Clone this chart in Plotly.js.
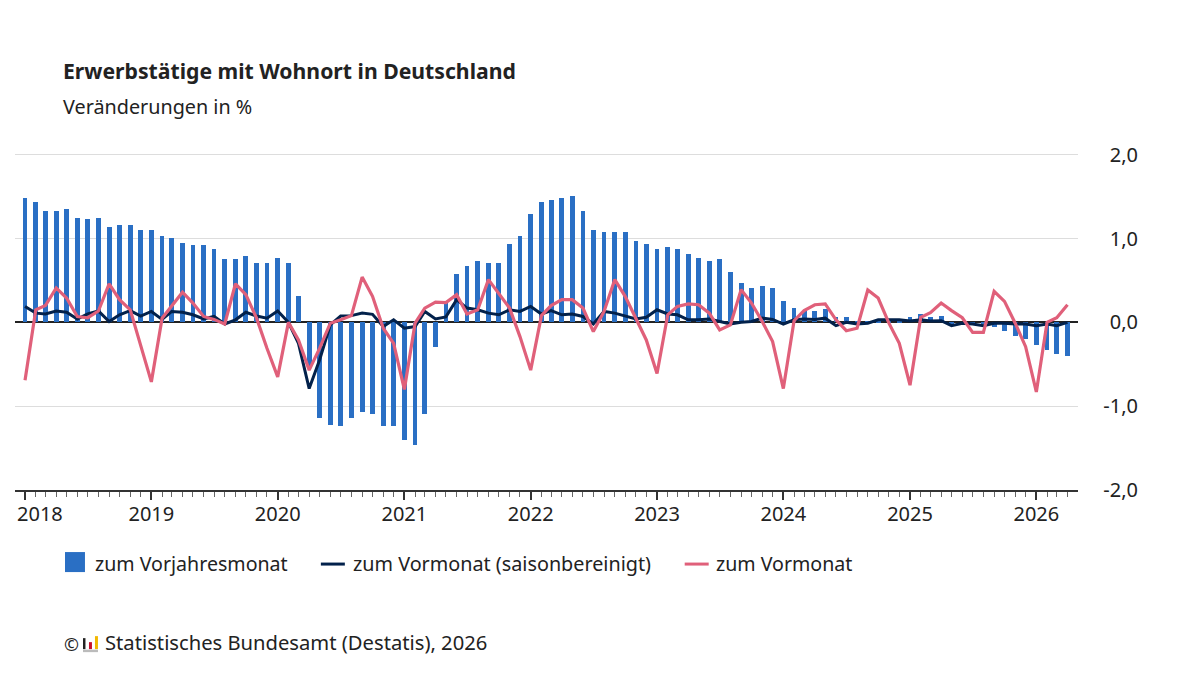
<!DOCTYPE html>
<html><head><meta charset="utf-8">
<script src="https://cdn.plot.ly/plotly-3.0.1.min.js"></script>
<style>html,body{margin:0;padding:0;background:#fff}</style></head>
<body><div id="chart" style="width:1200px;height:675px"></div>
<script>
const yearLabels = ['2018','2019','2020','2021','2022','2023','2024','2025','2026'];
const yoyChange = [1.48,1.44,1.33,1.33,1.35,1.25,1.23,1.25,1.14,1.16,1.16,1.10,
 1.10,1.03,1.01,0.95,0.92,0.92,0.88,0.75,0.75,0.79,0.71,0.71,
 0.77,0.71,0.32,-0.55,-1.14,-1.22,-1.24,-1.14,-1.07,-1.09,-1.24,-1.24,
 -1.40,-1.46,-1.09,-0.29,0.23,0.58,0.67,0.73,0.71,0.71,0.93,1.03,
 1.29,1.44,1.46,1.48,1.51,1.33,1.10,1.08,1.08,1.08,0.97,0.93,
 0.88,0.90,0.88,0.82,0.77,0.73,0.75,0.60,0.47,0.41,0.43,0.41,
 0.25,0.17,0.13,0.13,0.155,0.06,0.06,0.02,0.02,0.02,0.02,0.02,
 0.06,0.10,0.06,0.08,-0.02,0,-0.01,-0.02,-0.06,-0.10,-0.16,-0.20,
 -0.27,-0.33,-0.38,-0.40];
const momSeasonal = [0.19,0.11,0.10,0.135,0.12,0.04,0.10,0.135,0.01,0.09,0.14,0.075,
 0.13,0.035,0.13,0.12,0.09,0.04,0.07,-0.02,0.03,0.12,0.075,0.05,
 0.135,0,-0.25,-0.79,-0.45,-0.03,0.075,0.08,0.11,0.095,-0.05,0.03,
 -0.07,-0.05,0.13,0.04,0.065,0.27,0.17,0.15,0.11,0.09,0.15,0.13,
 0.19,0.10,0.14,0.09,0.10,0.07,-0.02,0.13,0.11,0.08,0.04,0.06,
 0.15,0.10,0.09,0.03,0.03,0.04,0.01,-0.02,0,0.01,0.05,0.035,
 -0.02,0.03,0.04,0.035,0.05,-0.04,0,-0.02,-0.01,0.03,0.03,0.03,
 0.015,0.03,0.015,0.02,-0.04,-0.01,-0.02,-0.04,-0.01,-0.01,-0.02,-0.02,
 -0.04,-0.02,-0.04,0];
const momChange = [-0.69,0.15,0.20,0.41,0.29,0.07,0.055,0.135,0.46,0.27,0.15,-0.29,
 -0.71,0.05,0.19,0.36,0.23,0.07,0.035,-0.02,0.46,0.33,0.05,-0.31,
 -0.65,0,-0.21,-0.57,-0.31,-0.01,0.03,0.08,0.54,0.31,-0.07,-0.25,
 -0.80,-0.01,0.17,0.24,0.235,0.33,0.10,0.15,0.51,0.345,0.17,-0.17,
 -0.57,0.08,0.20,0.27,0.27,0.17,-0.11,0.13,0.51,0.31,0.05,-0.21,
 -0.61,0.09,0.19,0.22,0.21,0.11,-0.09,-0.03,0.39,0.23,0.01,-0.23,
 -0.79,0.02,0.14,0.21,0.22,0.03,-0.10,-0.07,0.385,0.29,-0.01,-0.25,
 -0.75,0.06,0.115,0.23,0.14,0.055,-0.12,-0.12,0.37,0.25,-0.01,-0.29,
 -0.83,0,0.055,0.21];
const yTickVals = [2,1,0,-1,-2];
const seriesNames = ['zum Vorjahresmonat','zum Vormonat (saisonbereinigt)','zum Vormonat'];
const seriesColors = ['#2a6fc4','#02214b','#e0607a'];

const months = yoyChange.map((_, i) => {
  const y = 2018 + Math.floor(i / 12), m = i % 12 + 1;
  return y + '-' + String(m).padStart(2, '0') + '-01';
});
const yearDates = yearLabels.map(y => y + '-01-01');
const FONT = '"Noto Sans", sans-serif', INK = '#222222';

const W = 1200, H = 675, L = 15, R = 61.5;
const px = x => (x - L) / (W - L - R);                 // page px -> paper x
const T = 153.3, B = 185;
const py = y => 1 - (y - T) / (H - T - B);             // page px -> paper y

const traces = [
  {type:'bar', x:months, y:yoyChange, name:seriesNames[0], marker:{color:seriesColors[0]}, width:13.8*86400000},
  {type:'scatter', mode:'lines', x:months, y:momSeasonal, name:seriesNames[1], line:{color:seriesColors[1], width:3}},
  {type:'scatter', mode:'lines', x:months, y:momChange, name:seriesNames[2], line:{color:seriesColors[2], width:3.2}}
];

const txt = (text, x, y, size, extra) => Object.assign({
  text, xref:'paper', yref:'paper', x:px(x), y:py(y), xanchor:'left', yanchor:'middle',
  showarrow:false, font:{family:FONT, size, color:INK}, borderpad:0
}, extra || {});
const box = (x0, y0, x1, y1, color) => ({type:'rect', xref:'paper', yref:'paper',
  x0:px(x0), x1:px(x1), y0:py(y0), y1:py(y1), fillcolor:color, line:{width:0}});
const seg = (x0, x1, y, color) => ({type:'line', xref:'paper', yref:'paper',
  x0:px(x0), x1:px(x1), y0:py(y), y1:py(y), line:{color, width:3}});

const layout = {
  width:W, height:H, paper_bgcolor:'#fff', plot_bgcolor:'#fff', showlegend:false,
  margin:{l:L, r:R, t:T, b:B, pad:0}, separators:',.', bargap:0,
  font:{family:FONT, color:INK, size:20},
  xaxis:{type:'date', domain:[0,1063/(W-L-R)], range:['2017-12-03','2026-04-30'],
    tickmode:'array', tickvals:yearDates, ticktext:[''].concat(yearLabels.slice(1)),
    ticks:'outside', ticklen:8, tickwidth:1.5, tickcolor:'#333', ticklabelstandoff:-3,
    showline:true, linecolor:'#333', linewidth:2, showgrid:false, zeroline:false,
    tickfont:{size:20, color:INK}, anchor:'y',
    minor:{tickmode:'linear', tick0:'2018-01-01', dtick:'M1', ticks:'outside', ticklen:5, tickwidth:1, tickcolor:'#666', showgrid:false}},
  yaxis:{range:[-2,2.02], anchor:'free', position:1, side:'left', tickmode:'array', tickvals:yTickVals,
    ticktext:yTickVals.map(v => v.toFixed(1).replace('.',',')),
    ticks:'', showline:false, showgrid:true, gridcolor:'#dddddd', gridwidth:1,
    zeroline:true, zerolinecolor:'#222', zerolinewidth:1.5, tickfont:{size:20, color:INK}},
  annotations:[
    txt('<b>Erwerbstätige mit Wohnort in Deutschland</b>', 62, 71, 21.2),
    txt('Veränderungen in %', 62, 107, 19.8),
    txt(yearLabels[0], 16, 513, 20),
    txt(seriesNames[0], 94.5, 563, 19.6),
    txt(seriesNames[1], 352.5, 563, 19.8),
    txt(seriesNames[2], 715.5, 563, 19.6),
    txt('©', 63, 644, 18),
    txt('Statistisches Bundesamt (Destatis), 2026', 104.5, 642, 20.2)
  ],
  shapes:[
    box(65, 552, 85, 572, seriesColors[0]),
    seg(321, 345, 564, seriesColors[1]),
    seg(685, 709, 564, seriesColors[2]),
    box(83, 638, 85.5, 649, '#222'),
    box(89, 642, 92, 649, '#c8102e'),
    box(95, 636, 98, 649, '#f2b800'),
    box(83, 649.5, 98, 652, '#bbbbbb')
  ]
};
Plotly.newPlot('chart', traces, layout, {displayModeBar:false, responsive:false});
</script></body></html>
